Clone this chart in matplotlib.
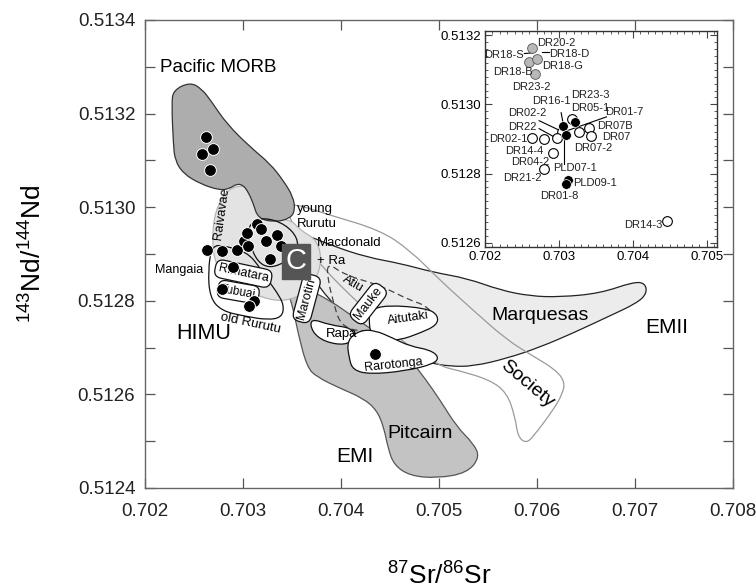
import numpy as np
import matplotlib
matplotlib.use('Agg')
import matplotlib.pyplot as plt
from matplotlib.path import Path
from matplotlib.patches import PathPatch
from matplotlib.ticker import MultipleLocator, FuncFormatter

plt.rcParams['font.family'] = ['Liberation Sans', 'DejaVu Sans']
plt.rcParams['mathtext.fontset'] = 'custom'
plt.rcParams['mathtext.rm'] = 'Liberation Sans'
plt.rcParams['mathtext.it'] = 'Liberation Sans:italic'

# ---- field outlines (87Sr/86Sr, 143Nd/144Nd) ----
morb_sr = [0.702459, 0.702289, 0.702272, 0.702289, 0.702306, 0.702391, 0.702561, 0.702765,
           0.702867, 0.702936, 0.703003, 0.703054, 0.703105, 0.703153, 0.703327, 0.703480,
           0.703531, 0.703513, 0.703411, 0.703276, 0.703071, 0.702834, 0.702681, 0.702579]
morb_nd = [0.513267, 0.513250, 0.513221, 0.513136, 0.513100, 0.513072, 0.513050, 0.513036,
           0.513040, 0.513050, 0.513047, 0.513032, 0.513008, 0.512976, 0.512968, 0.512976,
           0.512993, 0.513022, 0.513057, 0.513093, 0.513129, 0.513178, 0.513225, 0.513253]

pitcairn_sr = [0.703459, 0.703633, 0.703888, 0.704143, 0.704398, 0.704602, 0.704735, 0.704867,
               0.705010, 0.705184, 0.705347, 0.705418, 0.705286, 0.704980, 0.704704, 0.704541,
               0.704480, 0.704439, 0.704367, 0.704224, 0.703990, 0.703755, 0.703653, 0.703561,
               0.703510, 0.703449]
pitcairn_nd = [0.512838, 0.512827, 0.512801, 0.512763, 0.512727, 0.512695, 0.512667, 0.512631,
               0.512588, 0.512530, 0.512496, 0.512466, 0.512432, 0.512421, 0.512426, 0.512449,
               0.512485, 0.512528, 0.512566, 0.512592, 0.512613, 0.512637, 0.512658, 0.512731,
               0.512786, 0.512823]

marquesas_sr = [0.703582, 0.703918, 0.704265, 0.704602, 0.704939, 0.705286, 0.705622, 0.705929,
                0.706235, 0.706643, 0.706980, 0.707102, 0.707122, 0.707020, 0.706714, 0.706367,
                0.706031, 0.705694, 0.705347, 0.705112, 0.704908, 0.704704, 0.704398, 0.704092,
                0.703786, 0.703633]
marquesas_nd = [0.512946, 0.512917, 0.512893, 0.512880, 0.512861, 0.512848, 0.512823, 0.512810,
                0.512808, 0.512816, 0.512840, 0.512838, 0.512816, 0.512795, 0.512765, 0.512731,
                0.512701, 0.512677, 0.512660, 0.512660, 0.512667, 0.512684, 0.512716, 0.512759,
                0.512823, 0.512887]

society_sr = [0.703408, 0.703888, 0.704398, 0.704704, 0.705010, 0.705347, 0.705694, 0.705959,
              0.706194, 0.706286, 0.706255, 0.706163, 0.705959, 0.705888, 0.705806, 0.705776,
              0.705694, 0.705520, 0.705184, 0.705010, 0.704602, 0.704194, 0.703786, 0.703531]
society_nd = [0.513015, 0.512983, 0.512951, 0.512908, 0.512844, 0.512780, 0.512716, 0.512682,
              0.512652, 0.512626, 0.512599, 0.512566, 0.512509, 0.512496, 0.512509, 0.512552,
              0.512603, 0.512631, 0.512652, 0.512660, 0.512716, 0.512791, 0.512876, 0.512951]

austral_sr = [0.702847, 0.703020, 0.703173, 0.703153, 0.703480, 0.703582, 0.703765, 0.703806,
              0.703684, 0.703480, 0.703276, 0.703020, 0.702816, 0.702714, 0.702684, 0.702714]
austral_nd = [0.513040, 0.513047, 0.513036, 0.512972, 0.512976, 0.512951, 0.512929, 0.512876,
              0.512823, 0.512801, 0.512801, 0.512823, 0.512844, 0.512882, 0.512929, 0.512993]

old_rurutu_sr = [0.702684, 0.702643, 0.702663, 0.702786, 0.703020, 0.703255, 0.703398, 0.703418,
                 0.703347, 0.703255, 0.703153, 0.703071, 0.702969, 0.702816]
old_rurutu_nd = [0.512919, 0.512865, 0.512806, 0.512778, 0.512767, 0.512759, 0.512765, 0.512791,
                 0.512818, 0.512844, 0.512876, 0.512897, 0.512908, 0.512917]

young_rurutu_sr = [0.703092, 0.703224, 0.703429, 0.703561, 0.703551, 0.703429, 0.703276,
                   0.703153, 0.703071, 0.703051]
young_rurutu_nd = [0.512968, 0.512978, 0.512964, 0.512934, 0.512904, 0.512882, 0.512870,
                   0.512882, 0.512919, 0.512951]

atiu_sr = [0.703857, 0.704041, 0.704398, 0.704704, 0.704857, 0.704980, 0.704929, 0.704704,
           0.704194, 0.703990, 0.703918, 0.703867]
atiu_nd = [0.512882, 0.512855, 0.512833, 0.512801, 0.512791, 0.512763, 0.512742, 0.512733,
           0.512733, 0.512748, 0.512801, 0.512844]

aitutaki_sr = [0.704296, 0.704469, 0.704878, 0.704990, 0.704980, 0.704806, 0.704602, 0.704367,
               0.704296, 0.704286]
aitutaki_nd = [0.512780, 0.512791, 0.512784, 0.512769, 0.512748, 0.512731, 0.512716, 0.512712,
               0.512733, 0.512765]

rapa_sr = [0.703684, 0.703888, 0.704112, 0.704143, 0.704041, 0.703837, 0.703704]
rapa_nd = [0.512763, 0.512748, 0.512742, 0.512720, 0.512705, 0.512712, 0.512733]

rarotonga_sr = [0.704061, 0.704194, 0.704347, 0.704531, 0.704704, 0.704908, 0.705000, 0.704949,
                0.704653, 0.704296, 0.704122, 0.704082]
rarotonga_nd = [0.512716, 0.512737, 0.512737, 0.512720, 0.512703, 0.512695, 0.512680, 0.512665,
                0.512650, 0.512643, 0.512652, 0.512677]

# ---- samples on main plot ----
morb_pts_sr = [0.70262, 0.70269, 0.70258, 0.70266]
morb_pts_nd = [0.513151, 0.513125, 0.513113, 0.513080]
cook_pts_sr = [0.70263, 0.70279, 0.70294, 0.70301, 0.70304, 0.70314, 0.70318, 0.70323, 0.70335,
               0.70339, 0.70328, 0.70290, 0.70279, 0.70311, 0.70306, 0.70305, 0.70435]
cook_pts_nd = [0.512909, 0.512907, 0.512909, 0.512928, 0.512944, 0.512965, 0.512954, 0.512928,
               0.512940, 0.512917, 0.512890, 0.512872, 0.512826, 0.512800, 0.512788, 0.512917,
               0.512686]

# ---- inset samples ----
in_grey_sr = [0.70263, 0.70259, 0.70270, 0.70268]
in_grey_nd = [0.513163, 0.513122, 0.513132, 0.513087]
in_open_sr = [0.70318, 0.70304, 0.70264, 0.70280, 0.70297, 0.70327, 0.70341, 0.70343, 0.70292,
              0.70280, 0.70446]
in_open_nd = [0.512959, 0.512919, 0.512903, 0.512899, 0.512903, 0.512921, 0.512933, 0.512908,
              0.512860, 0.512812, 0.512664]
in_black_sr = [0.70306, 0.70322, 0.70310, 0.70313, 0.70309]
in_black_nd = [0.512937, 0.512949, 0.512912, 0.512783, 0.512771]

in_labels = ['DR20-2', 'DR18-S', 'DR18-D', 'DR18-G', 'DR18-B', 'DR23-2', 'DR16-1', 'DR23-3',
             'DR05-1', 'DR01-7', 'DR02-2', 'DR07B', 'DR22', 'DR07', 'DR02-1', 'DR14-4',
             'DR07-2', 'DR04-2', 'PLD07-1', 'DR21-2', 'PLD09-1', 'DR01-8', 'DR14-3']
in_lab_sr = [0.70271, 0.70253, 0.70287, 0.70277, 0.70264, 0.70263, 0.70290, 0.70342,
             0.70343, 0.70389, 0.70257, 0.70376, 0.70250, 0.70378, 0.70258, 0.70253,
             0.70347, 0.70261, 0.70322, 0.70251, 0.70349, 0.70300, 0.70440]
in_lab_nd = [0.513178, 0.513142, 0.513146, 0.513110, 0.513093, 0.513049, 0.513010, 0.513026,
             0.512991, 0.512979, 0.512974, 0.512937, 0.512935, 0.512906, 0.512901, 0.512866,
             0.512873, 0.512834, 0.512815, 0.512786, 0.512773, 0.512736, 0.512651]
in_lab_ha = ['left', 'right', 'left', 'left', 'right', 'center', 'center', 'center',
             'center', 'center', 'center', 'center', 'center', 'center', 'right', 'center',
             'center', 'center', 'center', 'center', 'center', 'center', 'right']
leader_sr = [(0.702733, 0.703000), (0.702733, 0.702920), (0.703031, 0.703058),
             (0.703644, 0.703111), (0.703076, 0.703076), (0.702533, 0.702644),
             (0.702778, 0.702867)]
leader_nd = [(0.512953, 0.512926), (0.512930, 0.512908), (0.512976, 0.512945),
             (0.512964, 0.512924), (0.512906, 0.512829), (0.513147, 0.513149),
             (0.513152, 0.513152)]


def field(ax, sr, nd, fc='none', ec='k', lw=0.9, ls='-', z=1):
    p = np.column_stack([sr, nd])
    mid = (p + np.roll(p, -1, axis=0)) / 2
    verts = [mid[-1]]
    codes = [Path.MOVETO]
    for i in range(len(p)):
        verts += [p[i], mid[i]]
        codes += [Path.CURVE3, Path.CURVE3]
    verts.append(mid[-1])
    codes.append(Path.CLOSEPOLY)
    ax.add_patch(PathPatch(Path(verts, codes), fc=fc, ec=ec, lw=lw, ls=ls, zorder=z))


fig = plt.figure(figsize=(7.56, 5.88), dpi=100)
ax = fig.add_axes([0.1918, 0.1701, 0.7778, 0.7959])

field(ax, society_sr, society_nd, fc='white', ec='none', z=1)
field(ax, marquesas_sr, marquesas_nd, fc='#ececec', ec='#222222', z=2)
field(ax, society_sr, society_nd, ec='#9a9a9a', z=3)
field(ax, pitcairn_sr, pitcairn_nd, fc='#c3c3c3', ec='#555555', z=3)
field(ax, austral_sr, austral_nd, fc='#e3e3e3', ec='#b5b5b5', z=4)
field(ax, morb_sr, morb_nd, fc='#adadad', ec='#333333', z=5)
field(ax, old_rurutu_sr, old_rurutu_nd, ec='#111111', z=6)
field(ax, young_rurutu_sr, young_rurutu_nd, ec='#111111', z=6)
field(ax, atiu_sr, atiu_nd, ec='#444444', ls=(0, (5, 3)), z=6)
field(ax, rapa_sr, rapa_nd, fc='white', ec='#111111', z=6)
field(ax, aitutaki_sr, aitutaki_nd, fc='white', ec='#111111', z=7)
field(ax, rarotonga_sr, rarotonga_nd, fc='white', ec='#111111', z=7)

ax.plot(morb_pts_sr, morb_pts_nd, 'o', ms=8.5, mfc='black', mec='white', mew=0.7, zorder=10)
ax.plot(cook_pts_sr, cook_pts_nd, 'o', ms=8.5, mfc='black', mec='white', mew=0.7, zorder=10)

box = dict(boxstyle='round,pad=0.25,rounding_size=0.6', fc='white', ec='#111111', lw=0.9)
ax.text(0.703003, 0.512858, 'Rimatara', fontsize=9, rotation=-12, ha='center', va='center', bbox=box, zorder=8)
ax.text(0.702952, 0.512819, 'Tubuai', fontsize=8.5, rotation=-10, ha='center', va='center', bbox=box, zorder=8)
ax.text(0.703650, 0.512805, 'Marotiri', fontsize=9, rotation=75, ha='center', va='center', bbox=box, zorder=8)
ax.text(0.704279, 0.512794, 'Mauke', fontsize=9, rotation=52, ha='center', va='center', bbox=box, zorder=8)
ax.text(0.704126, 0.512837, 'Atiu', fontsize=9, rotation=-30, ha='center', va='center', zorder=8)
ax.text(0.704687, 0.512762, 'Aitutaki', fontsize=9, rotation=8, ha='center', va='center', zorder=8)
ax.text(0.704007, 0.512730, 'Rapa', fontsize=9.5, ha='center', va='center', zorder=8)
ax.text(0.704534, 0.512663, 'Rarotonga', fontsize=9, rotation=6, ha='center', va='center', zorder=8)
ax.text(0.703075, 0.512752, 'old Rurutu', fontsize=9.5, rotation=-12, ha='center', va='center', zorder=8)
ax.text(0.702786, 0.512987, 'Raivavae', fontsize=9, rotation=82, ha='center', va='center', zorder=8)
ax.text(0.702102, 0.512865, 'Mangaia', fontsize=9, ha='left', va='center', zorder=8)
ax.text(0.703548, 0.512997, 'young', fontsize=9.5, ha='left', va='center', zorder=8)
ax.text(0.703548, 0.512965, 'Rurutu', fontsize=9.5, ha='left', va='center', zorder=8)
ax.text(0.703752, 0.512924, 'Macdonald', fontsize=9.5, ha='left', va='center', zorder=8)
ax.text(0.703752, 0.512885, '+ Ra', fontsize=9.5, ha='left', va='center', zorder=8)
ax.text(0.703541, 0.512885, 'C', fontsize=21, color='white', ha='center', va='center', zorder=11,
        bbox=dict(boxstyle='square,pad=0.12', fc='#555555', ec='#555555'))

ax.text(0.702153, 0.513299, 'Pacific MORB', fontsize=13.5, ha='left', va='center')
ax.text(0.702323, 0.512730, 'HIMU', fontsize=15.5, ha='left', va='center')
ax.text(0.706031, 0.512769, 'Marquesas', fontsize=14, ha='center', va='center', zorder=8)
ax.text(0.707323, 0.512743, 'EMII', fontsize=15, ha='center', va='center')
ax.text(0.705895, 0.512623, 'Society', fontsize=14, rotation=-40, ha='center', va='center', zorder=8)
ax.text(0.704806, 0.512517, 'Pitcairn', fontsize=14, ha='center', va='center', zorder=8)
ax.text(0.704143, 0.512468, 'EMI', fontsize=15, ha='center', va='center')

ax.set_xlim(0.702, 0.708)
ax.set_ylim(0.5124, 0.5134)
ax.xaxis.set_major_locator(MultipleLocator(0.001))
ax.yaxis.set_major_locator(MultipleLocator(0.0001))
ax.xaxis.set_major_formatter(FuncFormatter(lambda v, p: f'{v:.3f}'))
ax.yaxis.set_major_formatter(FuncFormatter(lambda v, p: f'{v:.4f}' if round(v * 1e4) % 2 == 0 else ''))
ax.tick_params(direction='in', length=7, width=0.9, color='#555555', top=True, right=True,
               labelsize=13.5, labelcolor='#222222')
ax.tick_params(axis='x', pad=11)
ax.tick_params(axis='y', pad=7)
for s in ax.spines.values():
    s.set_color('#666666')
    s.set_linewidth(1)
ax.set_xlabel(r'$^{87}$Sr/$^{86}$Sr', fontsize=19, labelpad=30)
ax.set_ylabel(r'$^{143}$Nd/$^{144}$Nd', fontsize=19, labelpad=22)

# ---- inset ----
axi = fig.add_axes([0.6415, 0.5799, 0.3069, 0.3673])
axi.set_facecolor('white')
axi.set_zorder(20)
axi.plot(in_open_sr, in_open_nd, 'o', ms=7, mfc='white', mec='black', mew=0.8, zorder=4)
axi.plot(in_black_sr, in_black_nd, 'o', ms=7, mfc='black', mec='white', mew=0.5, zorder=5)
axi.plot(in_grey_sr, in_grey_nd, 'o', ms=7, mfc='#b8b8b8', mec='#555555', mew=0.6, zorder=4)
for xs, ys in zip(leader_sr, leader_nd):
    axi.plot(xs, ys, color='black', lw=0.8, zorder=3)
for t, x, y, ha in zip(in_labels, in_lab_sr, in_lab_nd, in_lab_ha):
    axi.text(x, y, t, fontsize=8, ha=ha, va='center', color='#222222', zorder=6)
axi.set_xlim(0.702, 0.70514)
axi.set_ylim(0.512588, 0.513212)
axi.xaxis.set_major_locator(MultipleLocator(0.001))
axi.xaxis.set_minor_locator(MultipleLocator(0.0001))
axi.yaxis.set_major_locator(MultipleLocator(0.0002))
axi.yaxis.set_minor_locator(MultipleLocator(0.00002))
axi.xaxis.set_major_formatter(FuncFormatter(lambda v, p: f'{v:.3f}'))
axi.yaxis.set_major_formatter(FuncFormatter(lambda v, p: f'{v:.4f}'))
axi.tick_params(which='both', direction='in', top=True, right=True, color='#444444')
axi.tick_params(which='major', length=5, width=0.8, labelsize=9.5, pad=3)
axi.tick_params(which='minor', length=2.5, width=0.6)
for s in axi.spines.values():
    s.set_color('#333333')
    s.set_linewidth(1)

fig.savefig('out.png', dpi=100)
